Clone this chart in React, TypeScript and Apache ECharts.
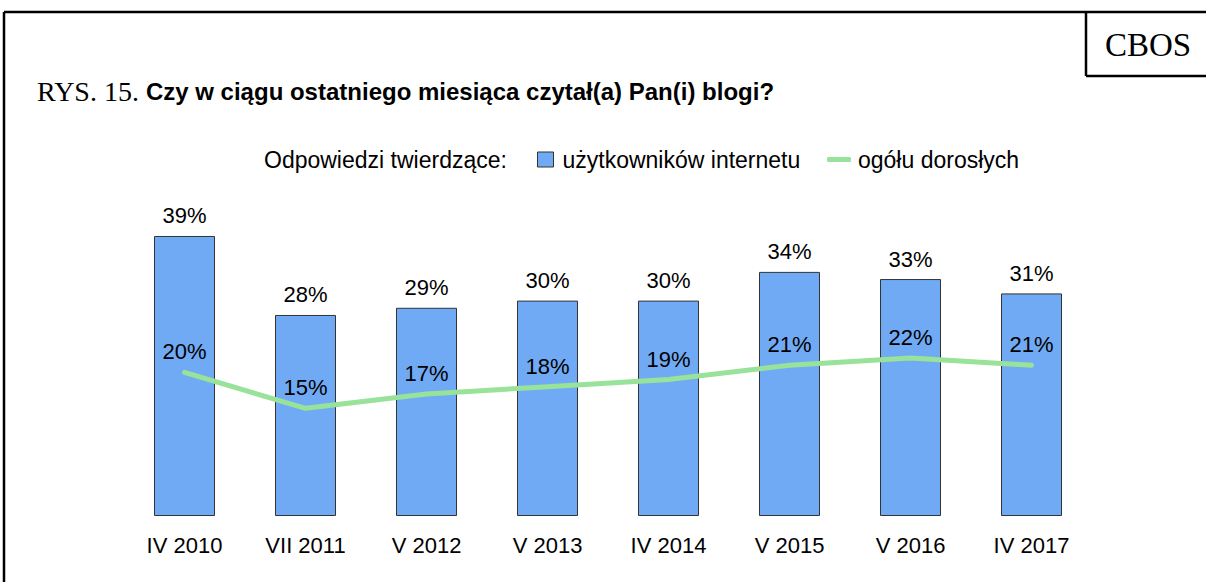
import React, { useEffect, useRef } from "react";
import * as echarts from "echarts";

const categories = ["IV 2010", "VII 2011", "V 2012", "V 2013", "IV 2014", "V 2015", "V 2016", "IV 2017"];
const internetUsers = [39, 28, 29, 30, 30, 34, 33, 31];
const allAdults = [20, 15, 17, 18, 19, 21, 22, 21];
const seriesNames = ["użytkowników internetu", "ogółu dorosłych"];
const legendPrefix = "Odpowiedzi twierdzące:";
const titlePrefix = "RYS. 15.";
const titleText = "Czy w ciągu ostatniego miesiąca czytał(a) Pan(i) blogi?";
const brand = "CBOS";

const SANS = "'Liberation Sans', Arial, sans-serif";
const SERIF = "'Liberation Serif', 'Times New Roman', serif";
const BAR_COLOR = "#71AAF4";
const LINE_COLOR = "#98E29A";

export default function App() {
  const ref = useRef<HTMLDivElement>(null);
  useEffect(() => {
    if (!ref.current) return;
    const chart = echarts.init(ref.current, null, { renderer: "svg" });
    chart.setOption({
      animation: false,
      backgroundColor: "#fff",
      textStyle: { fontFamily: SANS },
      grid: { left: 124, right: 114, top: 228.8, bottom: 66, containLabel: false },
      xAxis: {
        type: "category",
        data: categories,
        axisLine: { show: false },
        axisTick: { show: false },
        axisLabel: { color: "#000", fontSize: 22, fontFamily: SANS, margin: 18 },
      },
      yAxis: {
        type: "value",
        min: 0,
        max: 40,
        show: false,
        splitLine: { show: false },
      },
      legend: [
        {
          left: 537,
          top: 148,
          padding: 0,
          icon: "rect",
          itemWidth: 16,
          itemHeight: 15,
          data: [{ name: seriesNames[0], itemStyle: { color: BAR_COLOR, borderColor: "#333", borderWidth: 1 } }],
          textStyle: { fontSize: 23, color: "#000", fontFamily: SANS, padding: [0, 0, 0, 4] },
        },
        {
          left: 827,
          top: 148,
          padding: 0,
          icon: "roundRect",
          itemWidth: 24,
          itemHeight: 5,
          data: [{ name: seriesNames[1], itemStyle: { color: LINE_COLOR, borderWidth: 0 } }],
          textStyle: { fontSize: 23, color: "#000", fontFamily: SANS, padding: [0, 0, 0, 2] },
        },
      ],
      series: [
        {
          name: seriesNames[0],
          type: "bar",
          data: internetUsers,
          barWidth: 61,
          itemStyle: { color: BAR_COLOR, borderColor: "#333", borderWidth: 1 },
          label: {
            show: true,
            position: "top",
            distance: 9,
            formatter: "{c}%",
            color: "#000",
            fontSize: 22,
            fontFamily: SANS,
          },
        },
        {
          name: seriesNames[1],
          type: "line",
          data: allAdults,
          z: 5,
          symbol: "circle",
          symbolSize: 1,
          itemStyle: { color: LINE_COLOR },
          lineStyle: { color: LINE_COLOR, width: 5, cap: "round", join: "round" },
          label: {
            show: true,
            position: "top",
            distance: 9,
            formatter: "{c}%",
            color: "#000",
            fontSize: 22,
            fontFamily: SANS,
          },
        },
      ],
      graphic: [
        { type: "line", shape: { x1: 4, y1: 12, x2: 4, y2: 582 }, style: { stroke: "#000", lineWidth: 2.5 } },
        { type: "line", shape: { x1: 4, y1: 12, x2: 1206, y2: 12 }, style: { stroke: "#000", lineWidth: 2.5 } },
        { type: "line", shape: { x1: 1086, y1: 12, x2: 1086, y2: 76 }, style: { stroke: "#000", lineWidth: 2.5 } },
        { type: "line", shape: { x1: 1086, y1: 76, x2: 1206, y2: 76 }, style: { stroke: "#000", lineWidth: 2.5 } },
        {
          type: "text",
          x: 1105,
          y: 45,
          style: { text: brand, font: `33px ${SERIF}`, fill: "#000", verticalAlign: "middle", align: "left" },
        },
        {
          type: "text",
          x: 37,
          y: 91,
          style: {
            text: `{a|${titlePrefix} }{b|${titleText}}`,
            verticalAlign: "middle",
            align: "left",
            rich: {
              a: { fontFamily: SERIF, fontSize: 28, fill: "#000", color: "#000" },
              b: { fontFamily: SANS, fontSize: 24, fontWeight: "bold", fill: "#000", color: "#000" },
            },
          },
        },
        {
          type: "text",
          x: 264,
          y: 160,
          style: { text: legendPrefix, font: `23px ${SANS}`, fill: "#000", verticalAlign: "middle", align: "left" },
        },
      ],
    });
    return () => chart.dispose();
  }, []);
  return (
    <div
      ref={ref}
      style={{ position: "absolute", left: 0, top: 0, width: 1206, height: 582 }}
    />
  );
}
